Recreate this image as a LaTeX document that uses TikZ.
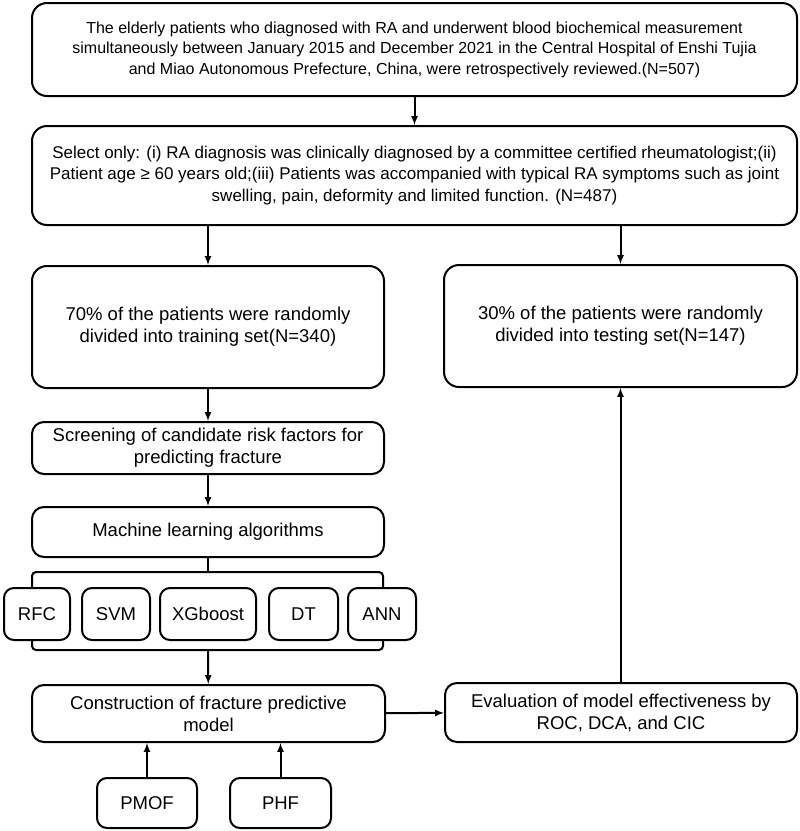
\documentclass[tikz,border=0pt]{standalone}
\usepackage{fontspec}
\setmainfont{Liberation Sans}

\tikzset{
    bigbox/.style={draw=black, line width=2pt, rounded corners=15pt, align=center, inner sep=0pt, font=\fontsize{16}{20.5}\selectfont},
    midbox/.style={draw=black, line width=2pt, rounded corners=12pt, align=center, inner sep=0pt, font=\fontsize{18.5}{22}\selectfont},
    algbox/.style={draw=black, line width=2pt, rounded corners=10pt, align=center, inner sep=0pt, minimum height=52pt, font=\fontsize{18.5}{22}\selectfont},
    link/.style={line width=2pt, -latex},
    bar/.style={line width=2pt, rounded corners=4pt},
}

\begin{document}
\begin{tikzpicture}[x=1pt, y=-1pt]
        \useasboundingbox (0,0) rectangle (800,831);

        \node[bigbox, minimum width=765pt, minimum height=93pt] (elderly) at (414.5,49.5) {The elderly patients who diagnosed with RA and underwent blood biochemical measurement\\simultaneously between January 2015 and December 2021 in the Central Hospital of Enshi Tujia\\and Miao Autonomous Prefecture, China, were retrospectively reviewed.(N=507)};
        \node[bigbox, minimum width=765pt, minimum height=99pt, font=\fontsize{17}{21.5}\selectfont] (select) at (414.5,175.5) {Select only: (i) RA diagnosis was clinically diagnosed by a committee certified rheumatologist;(ii)\\Patient age ≥ 60 years old;(iii) Patients was accompanied with typical RA symptoms such as joint\\swelling, pain, deformity and limited function. (N=487)};

        \node[midbox, rounded corners=15pt, minimum width=352pt, minimum height=122pt] (training) at (208,327) {70\% of the patients were randomly\\divided into training set(N=340)};
        \node[midbox, rounded corners=15pt, minimum width=353pt, minimum height=122pt] (testing) at (620.5,326) {30\% of the patients were randomly\\divided into testing set(N=147)};

        \node[midbox, minimum width=352pt, minimum height=52pt] (screening) at (208,448) {Screening of candidate risk factors for\\predicting fracture};
        \node[midbox, minimum width=352pt, minimum height=50pt] (ml) at (208,532) {Machine learning algorithms};

        \node[algbox, minimum width=66pt] (rfc) at (37,614) {RFC};
        \node[algbox, minimum width=68pt] (svm) at (116,614) {SVM};
        \node[algbox, minimum width=96pt] (xgb) at (208,614) {XGboost};
        \node[algbox, minimum width=69pt] (dt) at (303.5,614) {DT};
        \node[algbox, minimum width=68pt] (ann) at (382,614) {ANN};

        \node[midbox, minimum width=353pt, minimum height=57pt] (construct) at (208.5,713.5) {Construction of fracture predictive\\model};
        \node[midbox, minimum width=352pt, minimum height=59pt] (evaluate) at (621,712.5) {Evaluation of model effectiveness by\\ROC, DCA, and CIC};

        \node[algbox, minimum width=100pt, minimum height=50pt] (pmof) at (147,803) {PMOF};
        \node[algbox, minimum width=101pt, minimum height=50pt] (phf) at (280.5,803) {PHF};

        \coordinate (topbar) at (208,572);
        \coordinate (botbar) at (208,650);
        \draw[bar] (32,587) -- (32,572) -- (383,572) -- (383,587);
        \draw[bar] (32,640) -- (32,650) -- (383,650) -- (383,640);

        \draw[link] (elderly) -- (select);
        \draw[link] (select.south -| training) -- (training);
        \draw[link] (select.south -| testing) -- (testing);
        \draw[link] (training) -- (screening);
        \draw[link] (screening) -- (ml);
        \draw[line width=2pt] (ml) -- (topbar);
        \draw[link] (botbar) -- (construct);
        \draw[link] (construct) -- (evaluate);
        \draw[link] (evaluate.north -| testing) -- (testing);
        \draw[link] (pmof) -- (pmof |- construct.south);
        \draw[link] (phf) -- (phf |- construct.south);

    \end{tikzpicture}
\end{document}
